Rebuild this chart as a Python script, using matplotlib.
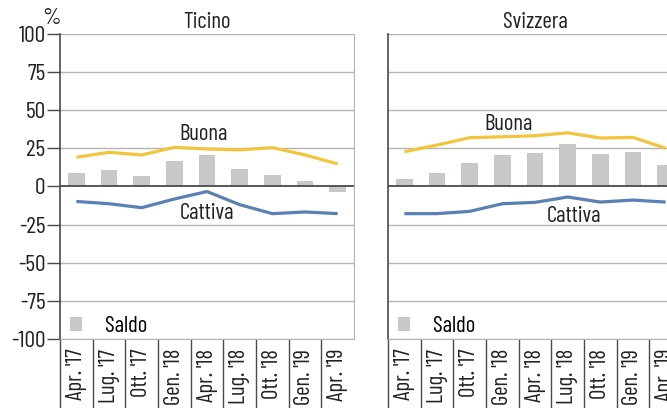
import matplotlib
matplotlib.use("Agg")
import matplotlib.pyplot as plt

plt.rcParams['font.family'] = ['Barlow Condensed', 'DejaVu Sans']

# --- data ---
periods = ["Apr. '17", "Lug. '17", "Ott. '17", "Gen. '18", "Apr. '18",
           "Lug. '18", "Ott. '18", "Gen. '19", "Apr. '19"]

ticino_buona = [19.2, 22.4, 20.7, 25.7, 24.6, 24.0, 25.5, 20.7, 14.8]
ticino_cattiva = [-9.8, -11.3, -13.9, -8.2, -3.3, -11.9, -17.8, -16.7, -17.8]
ticino_saldo = [8.9, 10.9, 6.8, 16.8, 20.9, 11.6, 7.6, 3.7, -3.9]

svizzera_buona = [22.8, 27.2, 32.0, 32.6, 33.3, 35.2, 31.8, 32.2, 25.1]
svizzera_cattiva = [-17.8, -17.8, -16.3, -11.3, -10.4, -6.9, -10.2, -8.9, -10.2]
svizzera_saldo = [5.0, 9.1, 15.5, 20.5, 22.0, 27.9, 21.5, 22.6, 14.2]

yticks = [-100, -75, -50, -25, 0, 25, 50, 75, 100]

YELLOW = '#F2C53D'
BLUE = '#5A80B4'
BAR = '#C7C8CA'
GRID = '#B4B4B4'
DARK = '#4A4A4A'
TXT = '#222222'
FS = 16.5

fig = plt.figure(figsize=(6.67, 4.08), dpi=100)
ax1 = fig.add_axes([60 / 667, 69 / 408, 294 / 667, 305 / 408])
ax2 = fig.add_axes([388 / 667, 69 / 408, 294 / 667, 305 / 408])

panels = [
    (ax1, "Ticino", ticino_buona, ticino_cattiva, ticino_saldo,
     (3.9, 34.4), (4.0, -17.8)),
    (ax2, "Svizzera", svizzera_buona, svizzera_cattiva, svizzera_saldo,
     (3.2, 40.9), (5.2, -19.6)),
]

x = list(range(len(periods)))

for ax, title, buona, cattiva, saldo, pos_b, pos_c in panels:
    ax.set_xlim(-0.5, len(periods) - 0.5)
    ax.set_ylim(-100, 100)

    for v in yticks:
        if v == 0:
            continue
        ax.axhline(v, color=GRID, lw=1.0, zorder=0)

    ax.bar(x, saldo, width=0.52, color=BAR, label='Saldo', zorder=1)
    ax.axhline(0, color=DARK, lw=1.3, zorder=2)
    ax.plot(x, buona, color=YELLOW, lw=2.3, zorder=3, solid_capstyle='butt')
    ax.plot(x, cattiva, color=BLUE, lw=2.3, zorder=3, solid_capstyle='butt')

    ax.text(pos_b[0], pos_b[1], "Buona", ha='center', va='center', fontsize=FS, color=TXT)
    ax.text(pos_c[0], pos_c[1], "Cattiva", ha='center', va='center', fontsize=FS, color=TXT)

    ax.set_title(title, fontsize=FS, pad=4, color=TXT)

    # spines
    ax.spines['top'].set_visible(False)
    ax.spines['bottom'].set_color(GRID)
    ax.spines['right'].set_color(GRID)
    ax.spines['left'].set_color(DARK)
    ax.spines['left'].set_linewidth(1.2)

    # x axis: labels at centres, separators at boundaries
    ax.set_xticks(x)
    ax.set_xticklabels(periods, rotation=90, va='top', ha='center', fontsize=FS, color=TXT)
    ax.set_xticks([i - 0.5 for i in range(len(periods))], minor=True)
    ax.tick_params(axis='x', which='major', length=0, pad=7)
    ax.tick_params(axis='x', which='minor', length=80, width=1.0, color=DARK, direction='out')

    ax.legend(loc='center left', bbox_to_anchor=(0.034, 0.041), frameon=False,
              handlelength=0.53, handleheight=0.53, handletextpad=1.0,
              fontsize=FS, borderaxespad=0, borderpad=0)

ax1.set_yticks(yticks)
ax1.set_yticklabels([str(v) for v in yticks], fontsize=FS + 0.5, color=TXT)
ax1.tick_params(axis='y', length=9.5, width=1.0, color=DARK, pad=1)
ax1.text(-0.028, 1.05, "%", transform=ax1.transAxes, ha='center', va='center', fontsize=FS + 0.5, color=TXT)

ax2.set_yticks(yticks)
ax2.tick_params(axis='y', length=0, labelleft=False)

fig.savefig("out.png", dpi=100)
